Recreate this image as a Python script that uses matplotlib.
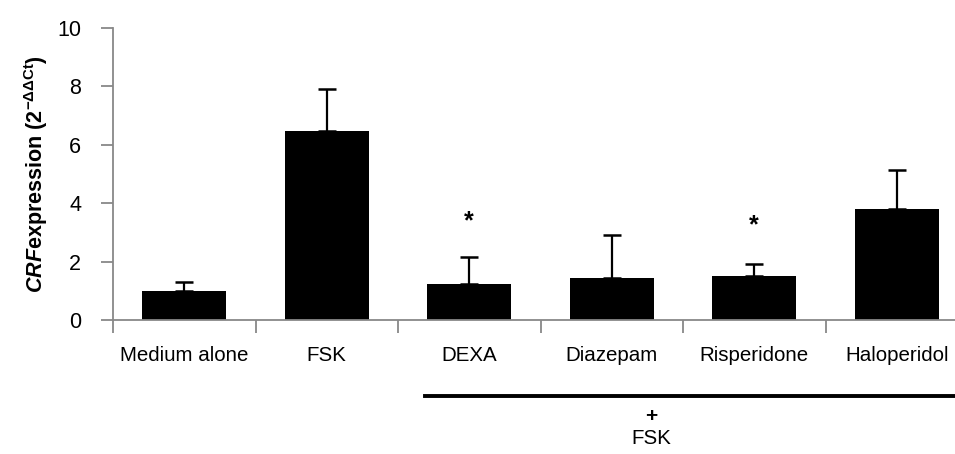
import matplotlib
matplotlib.use("Agg")
import matplotlib.pyplot as plt

# values
groups = ["Medium alone", "FSK", "DEXA", "Diazepam", "Risperidone", "Haloperidol"]
means = [0.99, 6.47, 1.24, 1.44, 1.49, 3.80]
upper = [1.29, 7.89, 2.16, 2.91, 1.91, 5.14]
errors = [u - m for u, m in zip(upper, means)]
star_groups = ["DEXA", "Risperidone"]
star_y = [3.36, 3.23]
yticks = [0, 2, 4, 6, 8, 10]

plt.rcParams["font.family"] = ["Liberation Sans", "DejaVu Sans"]
plt.rcParams["mathtext.fontset"] = "custom"
plt.rcParams["mathtext.rm"] = "Liberation Sans:bold"
plt.rcParams["mathtext.it"] = "Liberation Sans:bold:italic"
plt.rcParams["mathtext.bf"] = "Liberation Sans:bold"

fig = plt.figure(figsize=(9.55, 4.54), dpi=100)
# axis runs a little past the right edge of the picture, as in the reference
ax = fig.add_axes([113 / 955, 134 / 454, 855 / 955, 292.3 / 454])

x = list(range(len(groups)))
ax.bar(x, means, width=0.59, color="black", zorder=2)
ax.errorbar(x, means, yerr=[[0] * len(errors), errors], fmt="none",
            ecolor="black", elinewidth=1.6, capsize=6.5, capthick=1.8, zorder=3)

for g, yy in zip(star_groups, star_y):
    ax.text(groups.index(g), yy, "*", ha="center", va="center",
            fontsize=18, fontweight="bold")

ax.set_xlim(-0.5, len(groups) - 0.5)
ax.set_ylim(0, 10)
ax.set_yticks(yticks)
ax.set_yticklabels([str(t) for t in yticks], fontsize=15.5)
ax.set_xticks([i - 0.5 for i in range(len(groups) + 1)])
ax.set_xticklabels([])
ax.set_xticks(x, minor=True)
ax.set_xticklabels(groups, minor=True, fontsize=14.8)
ax.tick_params(axis="x", which="minor", length=0, pad=19)
ax.tick_params(axis="x", which="major", length=9, width=1.3, color="#888888")
ax.tick_params(axis="y", length=9, width=1.3, color="#888888", pad=14)

for side in ["top", "right"]:
    ax.spines[side].set_visible(False)
for side in ["left", "bottom"]:
    ax.spines[side].set_color("#888888")
    ax.spines[side].set_linewidth(1.3)

ax.set_ylabel(r"$\mathit{CRF}$expression (2$^{\mathrm{-\Delta\Delta Ct}}$)",
              fontsize=15.5, fontweight="bold", labelpad=5)

# bracket line for "+ FSK"
ax.plot([1.69, 5.6], [-0.26, -0.26], color="black", lw=2.8,
        transform=ax.get_xaxis_transform(), clip_on=False)
ax.text(3.275, -0.33, "+", transform=ax.get_xaxis_transform(),
        ha="center", va="center", fontsize=15, fontweight="bold")
ax.text(3.275, -0.405, "FSK", transform=ax.get_xaxis_transform(),
        ha="center", va="center", fontsize=14.8)

fig.savefig("out.png", dpi=100)
